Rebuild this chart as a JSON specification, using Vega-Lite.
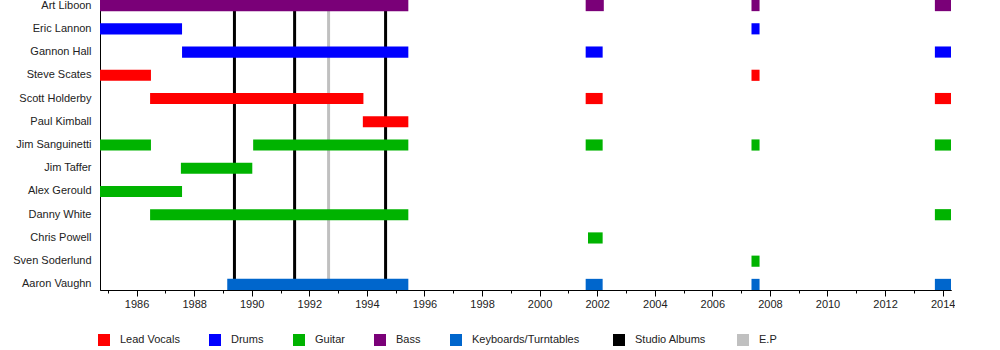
{
  "$schema": "https://vega.github.io/schema/vega-lite/v6.json",
  "width": 851,
  "height": 290,
  "padding": {"left": 0, "top": -2, "right": 0, "bottom": 0},
  "background": "white",
  "config": {"view": {"stroke": null}, "font": "Liberation Sans"},
  "datasets": {
    "members": [
      {"name": "Art Liboon", "role": "Bass", "start": 1984.73, "end": 1995.44},
      {"name": "Art Liboon", "role": "Bass", "start": 2001.60, "end": 2002.23},
      {"name": "Art Liboon", "role": "Bass", "start": 2007.36, "end": 2007.64},
      {"name": "Art Liboon", "role": "Bass", "start": 2013.73, "end": 2014.29},
      {"name": "Eric Lannon", "role": "Drums", "start": 1984.73, "end": 1987.58},
      {"name": "Eric Lannon", "role": "Drums", "start": 2007.36, "end": 2007.64},
      {"name": "Gannon Hall", "role": "Drums", "start": 1987.58, "end": 1995.44},
      {"name": "Gannon Hall", "role": "Drums", "start": 2001.60, "end": 2002.19},
      {"name": "Gannon Hall", "role": "Drums", "start": 2013.73, "end": 2014.29},
      {"name": "Steve Scates", "role": "Lead Vocals", "start": 1984.73, "end": 1986.50},
      {"name": "Steve Scates", "role": "Lead Vocals", "start": 2007.36, "end": 2007.64},
      {"name": "Scott Holderby", "role": "Lead Vocals", "start": 1986.47, "end": 1993.88},
      {"name": "Scott Holderby", "role": "Lead Vocals", "start": 2001.60, "end": 2002.19},
      {"name": "Scott Holderby", "role": "Lead Vocals", "start": 2013.73, "end": 2014.29},
      {"name": "Paul Kimball", "role": "Lead Vocals", "start": 1993.86, "end": 1995.44},
      {"name": "Jim Sanguinetti", "role": "Guitar", "start": 1984.73, "end": 1986.50},
      {"name": "Jim Sanguinetti", "role": "Guitar", "start": 1990.05, "end": 1995.44},
      {"name": "Jim Sanguinetti", "role": "Guitar", "start": 2001.60, "end": 2002.19},
      {"name": "Jim Sanguinetti", "role": "Guitar", "start": 2007.36, "end": 2007.64},
      {"name": "Jim Sanguinetti", "role": "Guitar", "start": 2013.73, "end": 2014.29},
      {"name": "Jim Taffer", "role": "Guitar", "start": 1987.54, "end": 1990.02},
      {"name": "Alex Gerould", "role": "Guitar", "start": 1984.73, "end": 1987.58},
      {"name": "Danny White", "role": "Guitar", "start": 1986.47, "end": 1995.44},
      {"name": "Danny White", "role": "Guitar", "start": 2013.73, "end": 2014.29},
      {"name": "Chris Powell", "role": "Guitar", "start": 2001.68, "end": 2002.19},
      {"name": "Sven Soderlund", "role": "Guitar", "start": 2007.36, "end": 2007.64},
      {"name": "Aaron Vaughn", "role": "Keyboards/Turntables", "start": 1989.15, "end": 1995.44},
      {"name": "Aaron Vaughn", "role": "Keyboards/Turntables", "start": 2001.60, "end": 2002.19},
      {"name": "Aaron Vaughn", "role": "Keyboards/Turntables", "start": 2007.36, "end": 2007.64},
      {"name": "Aaron Vaughn", "role": "Keyboards/Turntables", "start": 2013.73, "end": 2014.29}
    ],
    "albums": [
      {"kind": "Studio Albums", "year": 1989.40},
      {"kind": "Studio Albums", "year": 1991.49},
      {"kind": "E.P", "year": 1992.67},
      {"kind": "Studio Albums", "year": 1994.65}
    ]
  },
  "resolve": {"axis": {"x": "independent"}},
  "layer": [
    {
      "data": {"name": "albums"},
      "mark": {"type": "rule", "strokeWidth": 3},
      "encoding": {
        "x": {
          "field": "year", "type": "quantitative",
          "axis": {
            "orient": "bottom", "title": null, "grid": false, "labels": false,
            "values": [1985, 1987, 1989, 1991, 1993, 1995, 1997, 1999, 2001, 2003, 2005, 2007, 2009, 2011, 2013],
            "domainColor": "black", "tickColor": "black", "tickSize": 3
          }
        },
        "stroke": {
          "field": "kind", "type": "nominal",
          "scale": {"domain": ["Studio Albums", "E.P"], "range": ["#000000", "#c0c0c0"]},
          "legend": {
            "title": null, "orient": "none", "legendX": 513, "legendY": 334,
            "direction": "horizontal", "columns": 2, "columnPadding": 16,
            "symbolType": "square", "symbolSize": 4, "symbolStrokeWidth": 10, "symbolOpacity": 1,
            "labelFontSize": 11, "labelOffset": 10, "labelColor": "#222", "padding": 0
          }
        }
      }
    },
    {
      "data": {"name": "members"},
      "mark": {"type": "bar", "clip": true},
      "encoding": {
        "y": {
          "field": "name", "type": "nominal",
          "sort": ["Art Liboon", "Eric Lannon", "Gannon Hall", "Steve Scates", "Scott Holderby", "Paul Kimball", "Jim Sanguinetti", "Jim Taffer", "Alex Gerould", "Danny White", "Chris Powell", "Sven Soderlund", "Aaron Vaughn"],
          "scale": {"paddingInner": 0.52, "paddingOuter": 0},
          "axis": {"title": null, "ticks": false, "domain": true, "domainColor": "black", "labelPadding": 9, "labelFontSize": 11, "labelColor": "#222", "minExtent": 100, "maxExtent": 100}
        },
        "x": {
          "field": "start", "type": "quantitative",
          "scale": {"domain": [1984.73, 2014.29], "nice": false, "zero": false},
          "axis": {
            "orient": "bottom", "title": null, "grid": false,
            "values": [1986, 1988, 1990, 1992, 1994, 1996, 1998, 2000, 2002, 2004, 2006, 2008, 2010, 2012, 2014],
            "format": "d",
            "labelFontSize": 11, "labelColor": "#222", "labelPadding": 2,
            "domainColor": "black", "tickColor": "black", "tickSize": 6
          }
        },
        "x2": {"field": "end"},
        "color": {
          "field": "role", "type": "nominal",
          "scale": {
            "domain": ["Lead Vocals", "Drums", "Guitar", "Bass", "Keyboards/Turntables"],
            "range": ["#ff0000", "#0000ff", "#00b300", "#7a0078", "#0066cc"]
          },
          "legend": {
            "title": null, "orient": "none", "legendX": -2, "legendY": 334,
            "direction": "horizontal", "columns": 5, "columnPadding": 29,
            "symbolType": "square", "symbolSize": 144, "symbolStrokeWidth": 0, "symbolOpacity": 1,
            "labelFontSize": 11, "labelOffset": 10, "labelColor": "#222", "padding": 0
          }
        }
      }
    }
  ]
}
